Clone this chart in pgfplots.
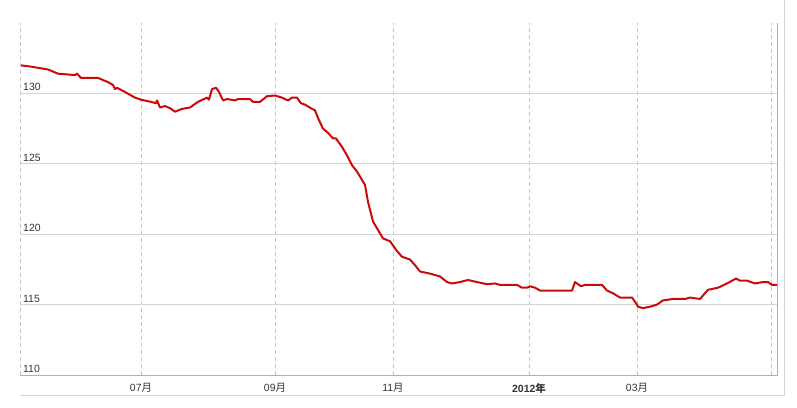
\documentclass[border=0pt]{standalone}
\usepackage{fontspec}
\setmainfont{Liberation Sans}
\newfontfamily\cjk{Noto Sans CJK SC}
\usepackage{pgfplots}
\pgfplotsset{compat=1.18}

\definecolor{linered}{HTML}{CC0A0A}
\definecolor{gridgray}{HTML}{D4D4D4}
\definecolor{dashgray}{HTML}{C4C4C4}
\definecolor{axgray}{HTML}{B0B0B0}
\definecolor{labgray}{HTML}{333333}

\begin{document}
\begin{tikzpicture}
\begin{axis}[
    scale only axis,
    width=757bp, height=352bp,
    xmin=20, xmax=777,
    ymin=110, ymax=135,
    axis line style={draw=none},
    xtick={141,275,393,529,637,771},
    xticklabels={07{\cjk 月},09{\cjk 月},11{\cjk 月},{\bfseries 2012{\cjk\bfseries 年}},03{\cjk 月},},
    ytick={110,115,120,125,130},
    major tick length=0pt,
    xmajorgrids, ymajorgrids,
    x grid style={dashgray, dash pattern=on 4bp off 3bp, line width=0.6bp},
    y grid style={gridgray, line width=0.8bp},
    tick label style={font=\fontsize{10.5}{12}\selectfont, text=labgray},
    /pgf/number format/assume math mode=true,
    yticklabel style={anchor=base west, inner sep=0pt, xshift=3bp, yshift=2.5bp},
    xticklabel style={anchor=north, inner sep=0pt, yshift=-8bp},
    clip=false,
]
\addplot[linered, line width=2bp, line join=round] coordinates {
(20,132.0)(31,131.9)(48,131.7)(58,131.4)(75,131.3)(77,131.4)(81,131.1)(98,131.1)
(108,130.8)(113,130.6)(115,130.3)(117,130.4)(125,130.1)(135,129.7)(141,129.55)
(151,129.4)(156,129.3)(157,129.5)(160,129.0)(165,129.1)(170,128.95)(175,128.7)
(182,128.9)(190,129.0)(198,129.4)(207,129.7)(209,129.55)(212,130.3)(216,130.4)
(219,130.1)(223,129.5)(227,129.6)(235,129.5)(238,129.6)(250,129.6)(253,129.4)
(260,129.4)(267,129.8)(275,129.85)(282,129.7)(288,129.5)(292,129.7)(297,129.7)
(301,129.3)(305,129.2)(312,128.9)(315,128.8)(318,128.25)(323,127.5)(328,127.2)
(333,126.8)(336,126.8)(342,126.2)(347,125.6)(352,124.9)(357,124.45)(365,123.5)
(368,122.3)(373,120.9)(378,120.3)(383,119.7)(390,119.5)(397,118.8)(402,118.4)
(410,118.2)(415,117.8)(420,117.35)(430,117.2)(440,117.0)(447,116.6)(452,116.5)
(460,116.6)(468,116.75)(477,116.6)(487,116.45)(495,116.5)(500,116.4)(517,116.4)
(522,116.2)(527,116.2)(530,116.3)(535,116.2)(540,116.0)(557,116.0)(572,116.0)
(575,116.6)(581,116.3)(585,116.4)(602,116.4)(607,116.0)(613,115.8)(620,115.5)
(632,115.5)(636,115.1)(638,114.85)(643,114.75)(650,114.85)(657,115.0)(663,115.3)
(673,115.4)(685,115.4)(690,115.5)(700,115.4)(708,116.05)(718,116.2)(727,116.5)
(736,116.85)(740,116.7)(747,116.7)(755,116.5)(763,116.6)(768,116.6)(772,116.4)
(777,116.4)
};
\coordinate (bl) at (rel axis cs:0,0);
\coordinate (tr) at (rel axis cs:1,1);
\end{axis}
% axis frame: dashed left, solid bottom and right
\draw[dashgray, dash pattern=on 4bp off 3bp, line width=0.6bp] (bl) -- (bl |- tr);
\draw[axgray, line width=0.8bp] (tr) -- (tr |- bl) -- (bl);
% outer container edge
\draw[gridgray, line width=0.8bp] ([yshift=-20bp]bl) -- ([xshift=7bp,yshift=-20bp]tr |- bl) -- ([xshift=7bp,yshift=23bp]tr);
\pgfresetboundingbox
\path ([shift={(-20bp,-33bp)}]bl) rectangle ([shift={(20bp,23bp)}]tr);
\end{tikzpicture}
\end{document}
